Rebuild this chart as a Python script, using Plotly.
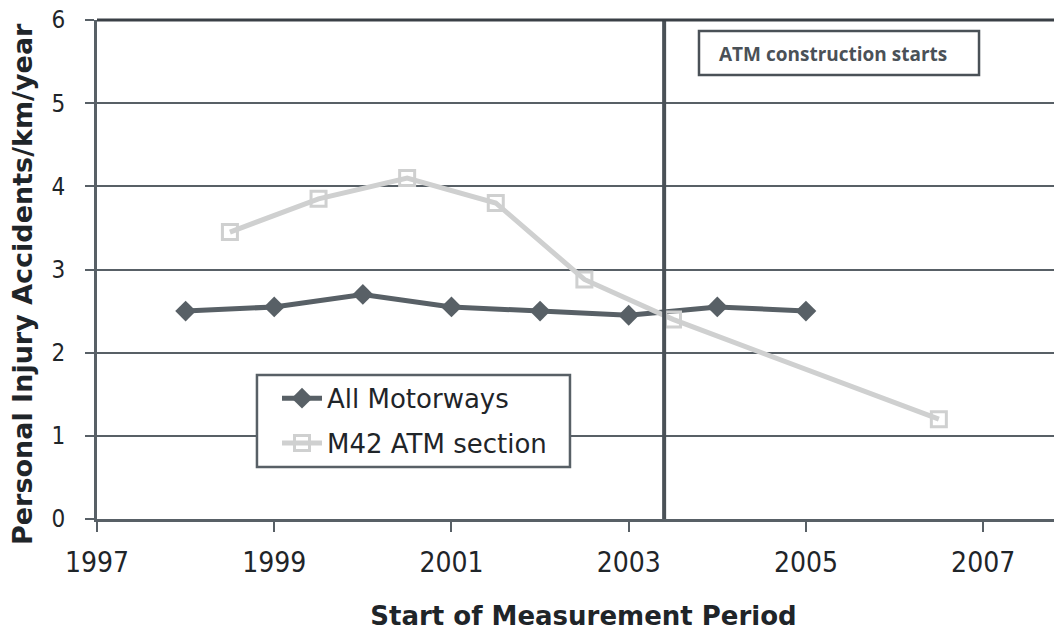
import plotly.graph_objects as go

# Data
all_x = [1998, 1999, 2000, 2001, 2002, 2003, 2004, 2005]
all_y = [2.5, 2.55, 2.7, 2.55, 2.5, 2.45, 2.55, 2.5]
m42_x = [1998.5, 1999.5, 2000.5, 2001.5, 2002.5, 2003.5, 2006.5]
m42_y = [3.45, 3.85, 4.1, 3.8, 2.88, 2.4, 1.2]
x_ticks = [1997, 1999, 2001, 2003, 2005, 2007]
y_ticks = [0, 1, 2, 3, 4, 5, 6]
construction_year = 2003.4

DARK = "#586066"
LIGHT = "#cfd0d0"
TXT = "#1f2529"
TICKFONT = "DejaVu Sans Condensed, Noto Sans, DejaVu Sans"

fig = go.Figure()
fig.add_trace(go.Scatter(
    x=all_x, y=all_y, mode="lines+markers", name="All Motorways", legendgroup="a",
    line=dict(color=DARK, width=5),
    marker=dict(symbol="diamond", size=16, color=DARK),
))
fig.add_trace(go.Scatter(
    x=m42_x, y=m42_y, mode="lines+markers", name="M42 ATM section", legendgroup="b",
    line=dict(color=LIGHT, width=5),
    marker=dict(symbol="square-open", size=15, color=LIGHT, line=dict(width=3, color=LIGHT)),
))

fig.add_shape(type="line", x0=construction_year, x1=construction_year, y0=0, y1=1,
              xref="x", yref="paper", line=dict(color="#4a5157", width=4))
# annotation box
fig.add_shape(type="rect", xref="paper", yref="paper",
              x0=0.6187, x1=0.9065, y0=0.8898, y1=0.978,
              line=dict(color="#4a5157", width=2.5), fillcolor="white")
fig.add_annotation(xref="paper", yref="paper", x=0.6372, y=0.9319, xanchor="left", yanchor="middle",
                   text="<b>ATM construction starts</b>", showarrow=False,
                   font=dict(family="Open Sans", size=19, color="#4a5157"))
# legend box
fig.add_shape(type="rect", xref="paper", yref="paper",
              x0=0.1644, x1=0.4861, y0=0.1042, y1=0.2886,
              line=dict(color=DARK, width=2.5), fillcolor="white", layer="above")
# y-axis title
fig.add_annotation(xref="paper", yref="paper", x=-0.076, y=0.471, xanchor="center", yanchor="middle",
                   text="<b>Personal Injury Accidents/km/year</b>", textangle=-90, showarrow=False,
                   font=dict(family="DejaVu Sans", size=27, color=TXT))

fig.update_layout(
    width=1062, height=631,
    margin=dict(l=89, r=0, t=12, b=120),
    paper_bgcolor="white", plot_bgcolor="white",
    font=dict(family="DejaVu Sans", color=TXT),
    showlegend=True,
    legend=dict(x=0.185, y=0.289, xanchor="left", yanchor="top",
                bgcolor="rgba(0,0,0,0)", borderwidth=0,
                font=dict(size=26, color=TXT), itemwidth=40,
                traceorder="grouped", tracegroupgap=8),
    xaxis=dict(range=[1997, 2007.98], tickvals=x_ticks, ticktext=[str(v) for v in x_ticks],
               showgrid=False, showline=True, linecolor=DARK, linewidth=3,
               ticks="outside", ticklen=10, tickwidth=2, tickcolor=DARK, automargin=False,
               ticklabelstandoff=6, ticklabeloverflow="allow",
               tickfont=dict(family=TICKFONT, size=28, color=TXT), zeroline=False,
               title=dict(text="<b>Start of Measurement Period</b>", font=dict(size=26, color=TXT), standoff=30)),
    yaxis=dict(range=[0, 6], tickvals=y_ticks, showgrid=True, gridcolor=DARK, gridwidth=2,
               showline=True, linecolor=DARK, linewidth=3, zeroline=False, automargin=False,
               ticks="outside", ticklen=9, tickwidth=2, tickcolor=DARK,
               ticklabelstandoff=15, ticklabeloverflow="allow",
               tickfont=dict(family=TICKFONT, size=24, color=TXT)),
)
fig.add_shape(type="line", xref="paper", yref="paper", x0=0, x1=1, y0=1, y1=1,
              line=dict(color="#3a4046", width=3))

fig.write_html("out.html")
